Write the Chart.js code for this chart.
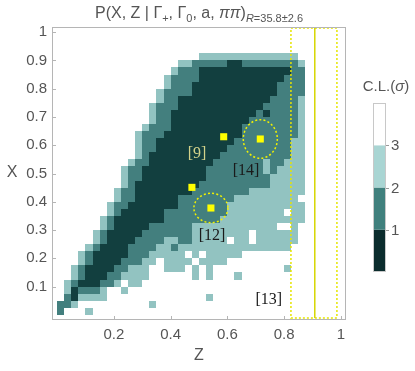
<!DOCTYPE html>
<html>
<head>
<meta charset="utf-8">
<script src="https://cdn.jsdelivr.net/npm/chart.js@4.4.1/dist/chart.umd.min.js"></script>
<style>
  html, body { margin: 0; padding: 0; background: #fff; }
</style>
</head>
<body>
<canvas id="chart" width="415" height="371"></canvas>
<script>
// scan step in X and Z
const CELL = 0.025;

// C.L. level of each scan cell, one list of runs per X row (row 0 = X 0..0.025)
// run = [first Z column, last Z column, level]  1: <1σ, 2: 1-2σ, 3: 2-3σ
const clRuns = [
  [[0,0,2],[4,4,3]],
  [[0,1,2],[2,2,3],[13,13,3]],
  [[1,1,2],[2,2,1],[3,6,3],[21,21,3]],
  [[1,1,3],[2,2,1],[3,5,2],[6,6,3],[9,9,3]],
  [[1,1,3],[2,2,2],[3,5,1],[6,7,2],[8,8,3],[10,11,3]],
  [[2,2,3],[3,3,2],[4,6,1],[7,8,2],[9,12,3],[19,19,3],[21,21,3],[25,25,3]],
  [[2,2,3],[3,3,2],[4,7,1],[8,9,2],[10,12,3],[15,17,3],[19,19,3],[21,21,3],[32,32,3]],
  [[3,3,3],[4,4,2],[5,8,1],[9,11,2],[12,13,3],[15,18,3],[20,23,3]],
  [[3,3,3],[4,4,2],[5,9,1],[10,12,2],[13,17,3],[19,19,3],[21,25,3]],
  [[4,4,3],[5,5,2],[6,9,1],[10,13,2],[14,15,3],[16,16,2],[17,32,3]],
  [[5,5,3],[6,6,2],[7,10,1],[11,14,2],[15,16,3],[17,18,2],[19,23,3],[25,26,3],[28,33,3]],
  [[5,5,3],[6,6,2],[7,11,1],[12,18,2],[19,26,3],[28,33,3]],
  [[6,6,3],[7,7,2],[8,12,1],[13,18,2],[19,30,3],[33,33,3]],
  [[6,6,3],[7,7,2],[8,14,1],[15,22,2],[23,34,3]],
  [[7,7,3],[8,8,2],[9,14,1],[15,23,2],[24,31,3],[33,34,3]],
  [[7,7,3],[8,9,2],[10,16,1],[17,23,2],[24,34,3]],
  [[8,8,3],[9,10,2],[11,16,1],[17,24,2],[25,33,3]],
  [[8,8,3],[9,10,2],[11,18,1],[19,26,2],[27,34,3]],
  [[9,9,3],[10,10,2],[11,19,1],[20,29,2],[30,34,3]],
  [[9,9,3],[10,11,2],[12,20,1],[21,29,2],[30,34,3]],
  [[9,9,3],[10,11,2],[12,20,1],[21,28,2],[29,29,3],[30,30,2],[31,34,3]],
  [[10,10,3],[11,12,2],[13,21,1],[22,28,2],[29,29,3],[30,31,2],[32,34,3]],
  [[11,11,3],[12,12,2],[13,22,1],[23,32,2],[33,34,3]],
  [[11,11,3],[12,13,2],[14,23,1],[24,32,2],[33,34,3]],
  [[11,11,3],[12,13,2],[14,24,1],[25,32,2],[33,34,3]],
  [[11,11,3],[12,14,2],[15,25,1],[26,33,2],[34,34,3]],
  [[12,12,3],[13,15,2],[16,25,1],[26,33,2],[34,34,3]],
  [[13,13,3],[14,15,2],[16,26,1],[27,33,2],[34,34,3]],
  [[13,13,3],[14,15,2],[16,27,1],[28,28,2],[29,29,1],[30,33,2],[34,34,3]],
  [[13,13,3],[14,16,2],[17,28,1],[29,33,2],[34,34,3]],
  [[14,14,3],[15,16,2],[17,29,1],[30,33,2],[34,34,3]],
  [[14,14,3],[15,18,2],[19,30,1],[31,34,2]],
  [[15,15,3],[16,18,2],[19,30,1],[31,34,2]],
  [[15,15,3],[16,19,2],[20,31,1],[32,34,2]],
  [[16,16,3],[17,19,2],[20,32,1],[33,34,2]],
  [[17,18,3],[19,23,2],[24,25,1],[26,33,2],[34,34,3]],
  [[20,33,3]]
];

const zTicks = [0.2, 0.4, 0.6, 0.8, 1];
const xTicks = [0.1, 0.2, 0.3, 0.4, 0.5, 0.6, 0.7, 0.8, 0.9, 1];
const cbTicks = [1, 2, 3];
const cbLevels = [1, 2, 3, 4];

// measured points (yellow squares)
const pointZ = [0.587, 0.716, 0.475, 0.542];
const pointX = [0.630, 0.622, 0.451, 0.378];

// error ellipses (dotted)
const ellZ = [0.716, 0.542];
const ellX = [0.622, 0.378];
const ellDZ = [0.060, 0.060];
const ellDX = [0.068, 0.052];

// Z band from [13]
const bandZ = 0.908;
const bandLo = 0.824;
const bandHi = 0.986;

// reference labels
const noteText = ['[9]', '[14]', '[12]', '[13]'];
const noteZ = [0.493, 0.666, 0.546, 0.746];
const noteX = [0.569, 0.510, 0.280, 0.053];

const FONT = "'Liberation Sans', Arial, sans-serif";
const GREY = '#555';
const cellColor = { 1: '#123f3f', 2: '#437f7e', 3: '#92c3c1' };
const barColor = { 1: '#0b2c2d', 2: '#40807d', 3: '#a9d5d3', 4: '#ffffff' };

const fmt = v => (v === 1 ? '1' : v.toFixed(1));

const heatmap = {
  id: 'heatmap',
  beforeDatasetsDraw(chart) {
    const { ctx, scales: { x, y } } = chart;
    ctx.save();
    clRuns.forEach((runs, r) => {
      const yTop = Math.round(y.getPixelForValue((r + 1) * CELL));
      const yBot = Math.round(y.getPixelForValue(r * CELL));
      runs.forEach(([c0, c1, lvl]) => {
        const xl = Math.round(x.getPixelForValue(c0 * CELL));
        const xr = Math.round(x.getPixelForValue((c1 + 1) * CELL));
        ctx.fillStyle = cellColor[lvl];
        ctx.fillRect(xl, yTop, xr - xl, yBot - yTop);
      });
    });
    ctx.restore();
  }
};

const frame = {
  id: 'frame',
  afterDraw(chart) {
    const { ctx, chartArea: a, scales: { x, y } } = chart;
    ctx.save();
    ctx.strokeStyle = '#b5b5b5';
    ctx.lineWidth = 1;
    ctx.strokeRect(a.left + 0.5, a.top + 0.5, a.right - a.left - 1, a.bottom - a.top - 1);
    ctx.beginPath();
    zTicks.forEach(v => {
      const px = Math.round(x.getPixelForValue(v)) + 0.5;
      ctx.moveTo(px, a.bottom);
      ctx.lineTo(px, a.bottom - 4);
    });
    xTicks.forEach(v => {
      const py = Math.round(y.getPixelForValue(v)) + 0.5;
      ctx.moveTo(a.left, py);
      ctx.lineTo(a.left + 4, py);
    });
    ctx.stroke();

    // axis titles
    ctx.fillStyle = GREY;
    ctx.font = '16px ' + FONT;
    ctx.textAlign = 'center';
    ctx.textBaseline = 'middle';
    ctx.fillText('X', 12, (a.top + a.bottom) / 2 - 1);
    ctx.fillText('Z', (a.left + a.right) / 2, 356);
    ctx.restore();
  }
};

const overlay = {
  id: 'overlay',
  afterDatasetsDraw(chart) {
    const { ctx, chartArea: a, scales: { x, y } } = chart;
    ctx.save();
    ctx.lineWidth = 1.5;
    // band
    ctx.strokeStyle = '#e6e600';
    ctx.setLineDash([2, 2]);
    const bl = x.getPixelForValue(bandLo), br = x.getPixelForValue(bandHi);
    ctx.strokeRect(bl, a.top + 1, br - bl, a.bottom - a.top - 3);
    ctx.setLineDash([]);
    ctx.strokeStyle = '#d6d600';
    ctx.beginPath();
    const bx = x.getPixelForValue(bandZ);
    ctx.moveTo(bx, a.top + 1);
    ctx.lineTo(bx, a.bottom - 2);
    ctx.stroke();
    // ellipses
    ctx.strokeStyle = '#f2f200';
    ctx.setLineDash([2, 2.2]);
    ellZ.forEach((z, i) => {
      const cx = x.getPixelForValue(z), cy = y.getPixelForValue(ellX[i]);
      const rx = x.getPixelForValue(z + ellDZ[i]) - cx;
      const ry = cy - y.getPixelForValue(ellX[i] + ellDX[i]);
      ctx.beginPath();
      ctx.ellipse(cx, cy, rx, ry, 0, 0, Math.PI * 2);
      ctx.stroke();
    });
    ctx.setLineDash([]);
    // labels
    ctx.font = "16px 'Liberation Serif', 'Times New Roman', serif";
    ctx.textAlign = 'center';
    ctx.textBaseline = 'middle';
    noteText.forEach((t, i) => {
      ctx.fillStyle = i === 0 ? '#d2d28a' : '#1a1a1a';
      ctx.fillText(t, x.getPixelForValue(noteZ[i]), y.getPixelForValue(noteX[i]));
    });
    ctx.restore();
  }
};

const colorbar = {
  id: 'colorbar',
  afterDraw(chart) {
    const { ctx } = chart;
    const left = 373, width = 13, top = 103, bottom = 272;
    const unit = (bottom - top) / cbLevels.length;
    const yOf = v => bottom - v * unit;
    ctx.save();
    cbLevels.forEach(l => {
      ctx.fillStyle = barColor[l];
      ctx.fillRect(left, yOf(l), width, unit);
    });
    ctx.strokeStyle = '#c8c8c8';
    ctx.lineWidth = 1;
    ctx.strokeRect(left + 0.5, top + 0.5, width - 1, bottom - top - 1);
    ctx.fillStyle = GREY;
    ctx.font = '15px ' + FONT;
    ctx.textAlign = 'left';
    ctx.textBaseline = 'middle';
    ctx.strokeStyle = '#999';
    cbTicks.forEach(v => {
      const py = Math.round(yOf(v)) + 0.5;
      ctx.beginPath();
      ctx.moveTo(left + width, py);
      ctx.lineTo(left + width + 3, py);
      ctx.stroke();
      ctx.fillText(String(v), left + width + 5, py);
    });
    // title C.L.(σ)
    ctx.font = '15px ' + FONT;
    const p1 = 'C.L.(', p3 = ')';
    const w1 = ctx.measureText(p1).width;
    ctx.font = 'italic 15px ' + FONT;
    const w2 = ctx.measureText('σ').width;
    ctx.font = '15px ' + FONT;
    const w3 = ctx.measureText(p3).width;
    let tx = 386 - (w1 + w2 + w3) / 2;
    ctx.fillText(p1, tx, 87); tx += w1;
    ctx.font = 'italic 15px ' + FONT;
    ctx.fillText('σ', tx, 87); tx += w2;
    ctx.font = '15px ' + FONT;
    ctx.fillText(p3, tx, 87);
    ctx.restore();
  }
};

const title = {
  id: 'richTitle',
  afterDraw(chart) {
    const { ctx } = chart;
    const big = '16px ' + FONT, small = '11px ' + FONT;
    const parts = [
      ['P(X, Z | Γ', big, 0], ['+', small, 4], [', Γ', big, 0], ['0', small, 4],
      [', a, ', big, 0], ['ππ', 'italic ' + big, 0], [')', big, 0],
      ['R', 'italic ' + small, 4], ['=35.8±2.6', small, 4]
    ];
    ctx.save();
    ctx.fillStyle = GREY;
    ctx.textBaseline = 'alphabetic';
    ctx.textAlign = 'left';
    let total = 0;
    parts.forEach(p => { ctx.font = p[1]; total += ctx.measureText(p[0]).width; });
    let tx = 199 - total / 2;
    parts.forEach(p => {
      ctx.font = p[1];
      ctx.fillText(p[0], tx, 18 + p[2]);
      tx += ctx.measureText(p[0]).width;
    });
    ctx.restore();
  }
};

new Chart(document.getElementById('chart'), {
  type: 'scatter',
  data: {
    datasets: [{
      data: pointZ.map((z, i) => ({ x: z, y: pointX[i] })),
      pointStyle: 'rect',
      radius: 5,
      borderWidth: 0,
      backgroundColor: '#ffff00'
    }]
  },
  options: {
    responsive: false,
    animation: false,
    devicePixelRatio: 1,
    layout: { padding: { top: 27, right: 69, left: 0, bottom: 0 } },
    plugins: { legend: { display: false }, tooltip: { enabled: false } },
    scales: {
      x: {
        type: 'linear', min: -0.018, max: 1.018,
        afterBuildTicks: s => { s.ticks = zTicks.map(v => ({ value: v })); },
        afterFit: s => { s.height = 51; },
        grid: { display: false, drawTicks: false },
        border: { display: false },
        ticks: { callback: fmt, color: GREY, font: { family: FONT, size: 15 }, padding: 6, maxRotation: 0, autoSkip: false }
      },
      y: {
        type: 'linear', min: -0.018, max: 1.018,
        afterBuildTicks: s => { s.ticks = xTicks.map(v => ({ value: v })); },
        afterFit: s => { s.width = 52; },
        grid: { display: false, drawTicks: false },
        border: { display: false },
        ticks: { callback: fmt, color: GREY, font: { family: FONT, size: 15 }, padding: 5, autoSkip: false }
      }
    }
  },
  plugins: [heatmap, overlay, frame, colorbar, title]
});
</script>
</body>
</html>
